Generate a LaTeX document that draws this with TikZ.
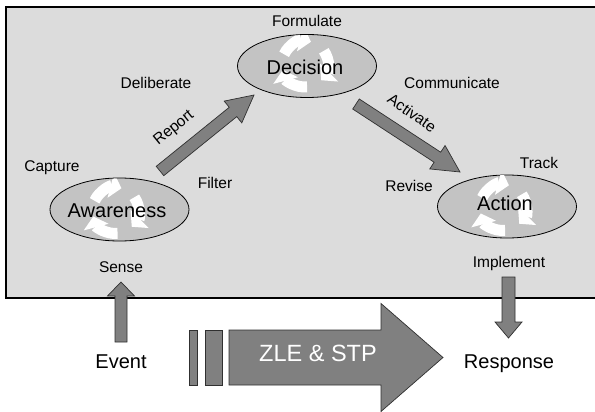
\documentclass[tikz,border=0pt]{standalone}
\usepackage{fontspec}
\setmainfont{Liberation Sans}
\usetikzlibrary{calc,arrows.meta,shapes.geometric}

\definecolor{panelgray}{HTML}{DCDCDC}
\definecolor{stagegray}{HTML}{C3C3C3}
\definecolor{arrowgray}{HTML}{808080}
\definecolor{edgegray}{HTML}{303030}

% block arrow: tail, tip, shaft half width, head half width, head length
\newcommand\fatarrow[5]{%
  \coordinate (fa-hb) at ($(#2)!#5!(#1)$);
  \filldraw[blockarrow]
    ($(#1)!#3!90:(#2)$) -- ($(fa-hb)!#3!90:(#2)$) -- ($(fa-hb)!#4!90:(#2)$) --
    (#2) --
    ($(fa-hb)!#4!-90:(#2)$) -- ($(fa-hb)!#3!-90:(#2)$) -- ($(#1)!#3!-90:(#2)$) -- cycle;}

\tikzset{
  blockarrow/.style={fill=arrowgray, draw=edgegray, line width=0.7pt, line join=miter},
  stage/.style={ellipse, draw=black, line width=0.8pt, fill=stagegray,
                minimum width=139pt, minimum height=63pt, inner sep=0pt},
  lbl/.style={inner sep=0pt, text height=11pt, text depth=0pt},
  big/.style={inner sep=0pt, font=\fontsize{20}{24}\selectfont,
              text height=14.3pt, text depth=0pt},
  recycle/.pic={
    \begin{scope}[yscale=-1]
      \foreach \a in {0,120,240}{
        \draw[white, line width=11pt, -{Triangle[length=11pt,width=25pt]}]
          ({\a+155}:23) arc[start angle={\a+155}, end angle={\a+75}, radius=23];
      }
    \end{scope}}
}

\begin{document}
\begin{tikzpicture}[x=1pt, y=-1pt, font=\fontsize{15.5}{18}\selectfont]
  \useasboundingbox (0,0) rectangle (595,412);

  % shaded system panel, open on the right
  \fill[panelgray] (6,7) rectangle (595,298);
  \draw[line width=1.2pt] (597,7) -- (6,7) -- (6,298) -- (597,298);

  % the three stages
  \node[stage] (aw) at (119.5,209.5) {};
  \node[stage] (de) at (307,66) {};
  \node[stage] (ac) at (507,206.5) {};
  \begin{scope}
    \clip (aw) ellipse[x radius=69pt, y radius=31pt];
    \pic at ($(aw.center)+(-4,1)$) {recycle};
  \end{scope}
  \begin{scope}
    \clip (de) ellipse[x radius=69.5pt, y radius=31pt];
    \pic at ($(de.center)+(-2,-2)$) {recycle};
  \end{scope}
  \begin{scope}
    \clip (ac) ellipse[x radius=69.5pt, y radius=31.5pt];
    \pic at ($(ac.center)+(-4,1)$) {recycle};
  \end{scope}
  \node[big] (awt) at (117,210) {Awareness};
  \node[big] (det) at (305,67) {Decision};
  \node[big] (act) at (505,203) {Action};

  % stage activities
  \node[lbl] (formulate) at (307,21) {Formulate};
  \node[lbl] (deliberate) at (156,83) {Deliberate};
  \node[lbl] (communicate) at (452,83) {Communicate};
  \node[lbl] (capture) at (52,166) {Capture};
  \node[lbl] (filter) at (215,183) {Filter};
  \node[lbl] (revise) at (409,186) {Revise};
  \node[lbl] (track) at (539,163) {Track};
  \node[lbl] (sense) at (121,266.5) {Sense};
  \node[lbl] (implement) at (509,262) {Implement};

  % outside world
  \node[big] (event) at (121,361) {Event};
  \node[big] (response) at (509,361) {Response};

  % arrow end points
  \coordinate (rep-s) at (160,171);
  \coordinate (rep-e) at (254,95);
  \coordinate (act-s) at (356,104);
  \coordinate (act-e) at (460,172);
  \coordinate (sen-s) at (121,342);
  \coordinate (sen-e) at (121,282);
  \coordinate (imp-s) at (508.5,277);
  \coordinate (imp-e) at (508.5,338);
  \coordinate (zle-s) at (229,357.5);
  \coordinate (zle-e) at (443,357.5);

  \fatarrow{rep-s}{rep-e}{6pt}{14pt}{27pt}
  \fatarrow{act-s}{act-e}{6pt}{14pt}{27pt}
  \fatarrow{sen-s}{sen-e}{6pt}{13.5pt}{14pt}
  \fatarrow{imp-s}{imp-e}{6.5pt}{13.5pt}{16pt}

  \node[lbl, rotate=39] (report) at (173,127) {Report};
  \node[lbl, rotate=-35] (activate) at (412,113) {Activate};

  % the ZLE & STP process arrow with its lead bars
  \filldraw[blockarrow] (189,330) rectangle (197,385);
  \filldraw[blockarrow] (205,330) rectangle (222,385);
  \fatarrow{zle-s}{zle-e}{27.5pt}{54pt}{62pt}
  \node[inner sep=0pt, text=white, font=\fontsize{23.5}{28}\selectfont,
        text height=16.8pt, text depth=0pt] (zle) at (318,353) {ZLE \& STP};
\end{tikzpicture}
\end{document}
